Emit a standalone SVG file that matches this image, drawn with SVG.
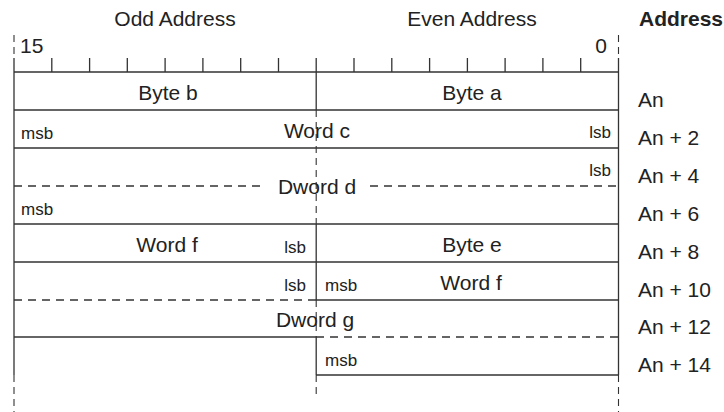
<svg xmlns="http://www.w3.org/2000/svg" width="724" height="412" viewBox="0 0 724 412">
<style>
.ln{stroke:#333;stroke-width:1.3;fill:none}
.ds{stroke:#333;stroke-width:1.3;fill:none;stroke-dasharray:8 6}
.dv{stroke:#333;stroke-width:1.1;fill:none;stroke-dasharray:7 5}
text{font-family:"Liberation Sans",Arial,sans-serif;fill:#222}
.t{font-size:21px}
.s{font-size:17px}
.b{font-size:21px;font-weight:bold}
.m{text-anchor:middle}
.e{text-anchor:end}
</style>
<rect width="724" height="412" fill="#fff"/>
<g id="headers">
<text class="t m" x="175" y="26">Odd Address</text>
<text class="t m" x="472" y="26">Even Address</text>
<text class="b" x="639" y="26">Address</text>
<text class="t" x="20" y="53">15</text>
<text class="t e" x="607" y="53">0</text>
</g>
<g id="ruler">
<path class="dv" d="M14 35V58M618.5 35V58"/>
<path class="ln" d="M51.8 58V72M89.6 58V72M127.3 58V72M165.1 58V72M202.9 58V72M240.7 58V72M278.5 58V72M316.2 58V72M354 58V72M391.8 58V72M429.6 58V72M467.4 58V72M505.1 58V72M542.9 58V72M580.7 58V72"/>
</g>
<g id="grid">
<path class="ln" d="M14 58V375M618.5 58V375"/>
<path class="ln" d="M14 72H618.5M14 110H618.5M14 148H618.5M14 224H618.5M14 262H618.5"/>
<path class="ds" d="M14 186H264M370 186H618.5"/>
<path class="ds" d="M14 300H316"/>
<path class="ln" d="M316 300H618.5"/>
<path class="ln" d="M14 337H316"/>
<path class="ds" d="M316 337H618.5"/>
<path class="ln" d="M316 375H618.5"/>
<path class="ln" d="M316.2 72V110M316.2 224V300M316.2 337V375"/>
<path class="dv" d="M316.2 110V224M316.2 300V337M316.2 375V398"/>
<path class="dv" d="M14 375V412M618.5 375V412"/>
</g>
<g id="byte-b"><text class="t m" x="168" y="100">Byte b</text></g>
<g id="byte-a"><text class="t m" x="472" y="100">Byte a</text></g>
<g id="word-c">
<text class="s" x="21" y="139">msb</text>
<text class="t m" x="317" y="138">Word c</text>
<text class="s e" x="611" y="138">lsb</text>
</g>
<g id="dword-d">
<text class="s e" x="611" y="176">lsb</text>
<text class="t m" x="317" y="194">Dword d</text>
<text class="s" x="21" y="215">msb</text>
</g>
<g id="word-f-odd">
<text class="t m" x="167" y="252">Word f</text>
<text class="s e" x="306" y="253">lsb</text>
</g>
<g id="byte-e"><text class="t m" x="472" y="252">Byte e</text></g>
<g id="word-f-even">
<text class="s" x="325" y="291">msb</text>
<text class="t m" x="471" y="290">Word f</text>
</g>
<g id="dword-g">
<text class="s e" x="306" y="291">lsb</text>
<text class="t m" x="315" y="327">Dword g</text>
<text class="s" x="325" y="366">msb</text>
</g>
<g id="addresses">
<text class="t" x="638" y="107">An</text>
<text class="t" x="638" y="145">An + 2</text>
<text class="t" x="638" y="183">An + 4</text>
<text class="t" x="638" y="221">An + 6</text>
<text class="t" x="638" y="259">An + 8</text>
<text class="t" x="638" y="297">An + 10</text>
<text class="t" x="638" y="334">An + 12</text>
<text class="t" x="638" y="372">An + 14</text>
</g>
<g id="connectors"></g>
</svg>
